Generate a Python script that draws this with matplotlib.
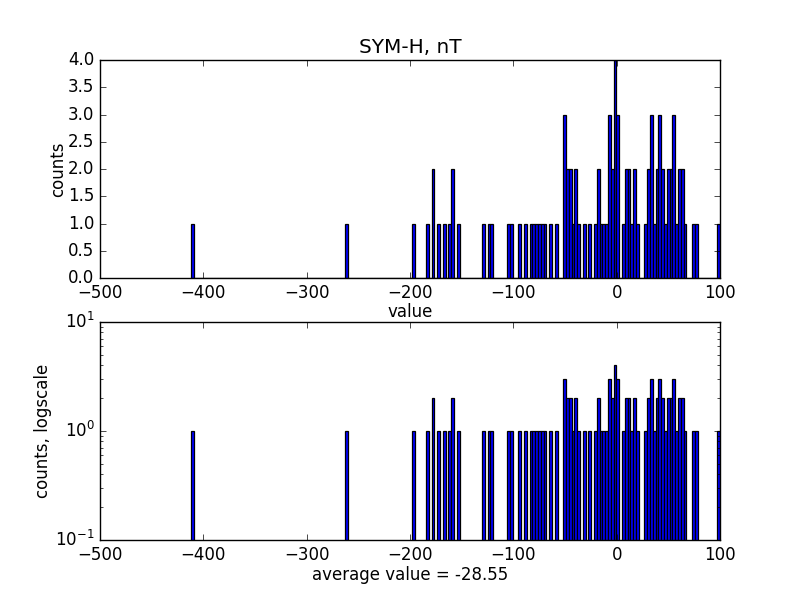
import numpy as np
import matplotlib
matplotlib.use("Agg")
import matplotlib.pyplot as plt

plt.style.use("classic")

# SYM-H samples in nT (repeated values = counts > 1)
sym_h = [
    -411, -262, -197, -183, -178, -178, -172, -167, -161.5, -159, -159, -153,
    -129, -124, -121, -105, -102, -94, -88, -83, -80, -77.5, -75, -72, -69,
    -64, -58.5,
    -50, -50, -50, -48, -48, -45, -45, -42, -40, -40, -37, -31, -26, -21,
    -18, -18, -15, -12, -10, -7, -7, -7, -4, -4, -2, -2, -2, -2, 1, 1, 1,
    6, 9, 9, 12, 12, 15, 17, 17, 20, 28, 31, 31, 34, 34, 34, 36, 39, 39,
    42, 42, 42, 44, 44, 47, 50, 50, 53, 53, 55, 55, 55, 58, 61, 61, 63, 63,
    66, 74, 77, 100,
]
bin_edges = np.linspace(-412.2, 100.0, 190)
x_ticks = [-500, -400, -300, -200, -100, 0, 100]
title = "SYM-H, nT"
avg_label = "average value = -28.55"

fig = plt.figure(figsize=(8, 6))

ax1 = fig.add_subplot(211)
ax1.hist(sym_h, bins=bin_edges, color="b", edgecolor="k", linewidth=0.9)
ax1.set_xlim(-500, 100)
ax1.set_ylim(0, 4)
ax1.set_xticks(x_ticks)
ax1.set_yticks(np.arange(0, 4.01, 0.5))
ax1.set_title(title)
ax1.set_xlabel("value", labelpad=1)
ax1.set_ylabel("counts", labelpad=1)

ax2 = fig.add_subplot(212)
ax2.hist(sym_h, bins=bin_edges, color="b", edgecolor="k", linewidth=0.9, log=True)
ax2.set_xlim(-500, 100)
ax2.set_ylim(0.1, 10)
ax2.set_xticks(x_ticks)
ax2.set_xlabel(avg_label, labelpad=2)
ax2.set_ylabel("counts, logscale", labelpad=2)

fig.savefig("out.png", dpi=100)
